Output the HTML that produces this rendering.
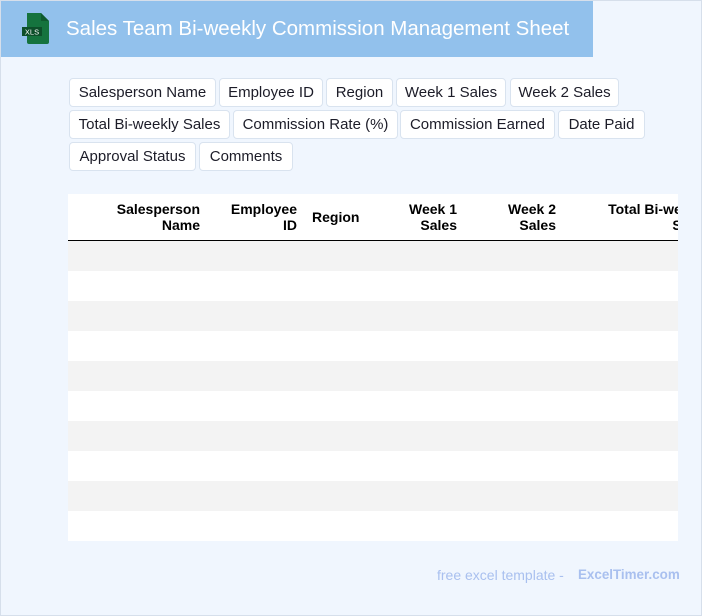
<!DOCTYPE html>
<html><head><meta charset="utf-8"><style>
*{margin:0;padding:0;box-sizing:border-box}
html,body{width:702px;height:616px;overflow:hidden;background:#f0f6fe}
body{position:relative;font-family:"Liberation Sans",Arial,sans-serif}
.frame{position:absolute;left:0;top:0;width:702px;height:616px;border:1px solid #d6dfeb;background:#f0f6fe}
.hdr{position:absolute;left:1px;top:1px;width:592px;height:56px;background:#92c1ec}
.title{position:absolute;left:66px;top:17px;font-size:20.5px;color:#fff;white-space:nowrap;line-height:24px}
.tag{position:absolute;height:29px;background:#fff;border:1px solid #d9e3ef;border-radius:4px;font-size:15px;color:#1c1c28;line-height:28px;text-align:center;white-space:nowrap}
.tbl{position:absolute;left:68px;top:194px;width:610px;height:347px;background:#fff;overflow:hidden}
.th{position:absolute;font-weight:bold;font-size:14px;line-height:16px;color:#000;white-space:nowrap}
.line{position:absolute;left:0;top:46px;width:610px;height:1px;background:#000}
.row{position:absolute;left:0;width:610px;height:30px}
.g{background:#f3f3f3}
.foot{position:absolute;top:566px;font-size:14px;color:#a9c0ef;white-space:nowrap;line-height:18px}
</style></head><body>
<div class="frame"></div>
<div class="hdr"></div>
<svg style="position:absolute;left:20px;top:12px" width="32" height="34" viewBox="0 0 32 34">
<path d="M7 1 H21 L29 9 V30 Q29 32 27 32 H9 Q7 32 7 30 Z" fill="#15733e"/>
<path d="M21 1 V9 H29 Z" fill="#0e5a2f"/>
<rect x="2" y="15" width="20" height="9" fill="#0d4f2a"/>
<text x="12" y="22.5" font-family="Liberation Sans,Arial,sans-serif" font-size="7.5" fill="#fff" text-anchor="middle">XLS</text>
</svg>
<div class="title">Sales Team Bi-weekly Commission Management Sheet</div>

<div class="tag" style="left:69px;top:78px;width:147px">Salesperson Name</div>
<div class="tag" style="left:219px;top:78px;width:104px">Employee ID</div>
<div class="tag" style="left:326px;top:78px;width:67px">Region</div>
<div class="tag" style="left:396px;top:78px;width:110px">Week 1 Sales</div>
<div class="tag" style="left:510px;top:78px;width:109px">Week 2 Sales</div>

<div class="tag" style="left:69px;top:110px;width:161px">Total Bi-weekly Sales</div>
<div class="tag" style="left:233px;top:110px;width:165px">Commission Rate (%)</div>
<div class="tag" style="left:400px;top:110px;width:155px">Commission Earned</div>
<div class="tag" style="left:558px;top:110px;width:87px">Date Paid</div>

<div class="tag" style="left:69px;top:142px;width:127px">Approval Status</div>
<div class="tag" style="left:199px;top:142px;width:94px">Comments</div>

<div class="tbl">
<div class="th" style="right:478px;top:7px;text-align:right">Salesperson<br>Name</div>
<div class="th" style="right:381px;top:7px;text-align:right">Employee<br>ID</div>
<div class="th" style="left:244px;top:15px">Region</div>
<div class="th" style="right:221px;top:7px;text-align:right">Week 1<br>Sales</div>
<div class="th" style="right:122px;top:7px;text-align:right">Week 2<br>Sales</div>
<div class="th" style="left:539px;top:7px;text-align:right;width:102px">Total Bi-weekly<br>Sales</div>
<div class="line"></div>
<div class="row g" style="top:47px"></div>
<div class="row" style="top:77px"></div>
<div class="row g" style="top:107px"></div>
<div class="row" style="top:137px"></div>
<div class="row g" style="top:167px"></div>
<div class="row" style="top:197px"></div>
<div class="row g" style="top:227px"></div>
<div class="row" style="top:257px"></div>
<div class="row g" style="top:287px"></div>
<div class="row" style="top:317px"></div>
</div>

<div class="foot" style="left:437px">free excel template -</div>
<div class="foot" style="left:578px;font-weight:bold;font-size:13.4px">ExcelTimer.com</div>
</body></html>
